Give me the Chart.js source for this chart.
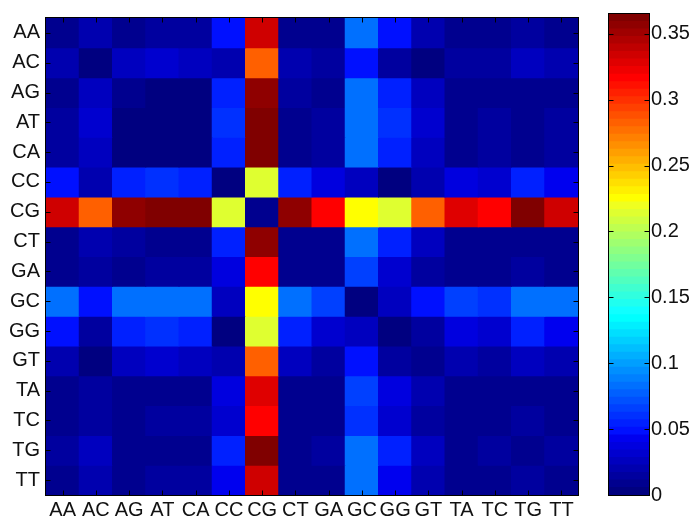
<!DOCTYPE html>
<html>
<head>
<meta charset="utf-8">
<script src="https://cdn.jsdelivr.net/npm/chart.js@4.4.1/dist/chart.umd.min.js"></script>
<style>
  html, body { margin: 0; padding: 0; background: #fff; }
  #wrap { position: relative; width: 689px; height: 524px; overflow: hidden; }
  #heat { position: absolute; left: 0; top: 0; }
  #cbar { position: absolute; left: 590px; top: 0; }
</style>
</head>
<body>
<div id="wrap">
  <canvas id="heat" width="590" height="524"></canvas>
  <canvas id="cbar" width="99" height="524"></canvas>
</div>
<script>
// Dinucleotide labels (columns left to right, rows top to bottom)
const dinucleotides = ['AA','AC','AG','AT','CA','CC','CG','CT','GA','GC','GG','GT','TA','TC','TG','TT'];

// One array per row of the matrix
const rowAA = [0.009,0.020,0.009,0.014,0.014,0.048,0.334,0.009,0.009,0.083,0.048,0.020,0.009,0.009,0.014,0.009];
const rowAC = [0.020,0.003,0.026,0.031,0.026,0.020,0.282,0.020,0.014,0.048,0.014,0.003,0.014,0.014,0.026,0.020];
const rowAG = [0.009,0.026,0.009,0.003,0.003,0.054,0.356,0.014,0.009,0.083,0.054,0.026,0.009,0.009,0.009,0.009];
const rowAT = [0.014,0.031,0.003,0.003,0.003,0.060,0.365,0.009,0.014,0.083,0.060,0.031,0.009,0.014,0.009,0.014];
const rowCA = [0.014,0.026,0.003,0.003,0.003,0.054,0.365,0.009,0.014,0.083,0.054,0.026,0.009,0.014,0.009,0.014];
const rowCC = [0.048,0.020,0.054,0.060,0.054,0.003,0.214,0.054,0.037,0.026,0.003,0.020,0.037,0.031,0.054,0.043];
const rowCG = [0.334,0.282,0.356,0.365,0.365,0.214,0.009,0.356,0.317,0.225,0.214,0.282,0.328,0.317,0.365,0.334];
const rowCT = [0.009,0.020,0.014,0.009,0.009,0.054,0.356,0.009,0.009,0.083,0.054,0.026,0.009,0.009,0.009,0.009];
const rowGA = [0.009,0.014,0.009,0.014,0.014,0.037,0.317,0.009,0.009,0.066,0.031,0.014,0.009,0.009,0.014,0.009];
const rowGC = [0.083,0.048,0.083,0.083,0.083,0.026,0.225,0.083,0.066,0.003,0.026,0.048,0.066,0.060,0.083,0.083];
const rowGG = [0.048,0.014,0.054,0.060,0.054,0.003,0.214,0.054,0.031,0.026,0.003,0.014,0.037,0.031,0.054,0.043];
const rowGT = [0.020,0.003,0.026,0.031,0.026,0.020,0.282,0.026,0.014,0.048,0.014,0.009,0.020,0.014,0.026,0.020];
const rowTA = [0.009,0.014,0.009,0.009,0.009,0.037,0.328,0.009,0.009,0.066,0.037,0.020,0.009,0.009,0.009,0.009];
const rowTC = [0.009,0.014,0.009,0.014,0.014,0.031,0.317,0.009,0.009,0.060,0.031,0.014,0.009,0.009,0.014,0.009];
const rowTG = [0.014,0.026,0.009,0.009,0.009,0.054,0.365,0.009,0.014,0.083,0.054,0.026,0.009,0.014,0.009,0.014];
const rowTT = [0.009,0.020,0.009,0.014,0.014,0.043,0.334,0.009,0.009,0.083,0.043,0.020,0.009,0.009,0.014,0.009];

const matrix = [rowAA,rowAC,rowAG,rowAT,rowCA,rowCC,rowCG,rowCT,rowGA,rowGC,rowGG,rowGT,rowTA,rowTC,rowTG,rowTT];

// Colour bar tick values
const colorbarTicks = [0, 0.05, 0.1, 0.15, 0.2, 0.25, 0.3, 0.35];

// Colour limits: zero to the largest entry
const CMIN = 0;
const CMAX = Math.max(...matrix.flat());
const LEVELS = 64;

// 64-level "jet" colormap
function jet(k) { // k = 1..64
  const u = i => (i <= 16 ? i / 16 : (i <= 31 ? 1 : (48 - i) / 16));
  const r = k >= 25 ? u(k - 24) : 0;
  const g = (k >= 9 && k <= 55) ? u(k - 8) : 0;
  const b = k <= 39 ? u(k + 7) : 0;
  return `rgb(${Math.round(r * 255)},${Math.round(g * 255)},${Math.round(b * 255)})`;
}
function colourFor(v) {
  let k = Math.floor((v - CMIN) / (CMAX - CMIN) * LEVELS) + 1;
  k = Math.max(1, Math.min(LEVELS, k));
  return jet(k);
}

const FONT = { family: '"Liberation Sans", Arial, Helvetica, sans-serif', size: 20 };
const TEXT = '#111';

// Axes box with inward tick marks
const boxPlugin = {
  id: 'boxTicks',
  afterDraw(chart, args, opts) {
    const { ctx, chartArea: a } = chart;
    ctx.save();
    ctx.strokeStyle = '#000';
    ctx.lineWidth = 1;
    const L = Math.round(a.left) - 0.5, R = Math.round(a.right) + 0.5;
    const T = Math.round(a.top) - 0.5, B = Math.round(a.bottom) + 0.5;
    ctx.strokeRect(L, T, R - L, B - T);
    const len = opts.len || 5;
    ctx.beginPath();
    if (opts.xTicks) {
      const xs = chart.scales.x;
      xs.ticks.forEach((t, i) => {
        const x = Math.round(xs.getPixelForTick(i)) + 0.5;
        ctx.moveTo(x, B); ctx.lineTo(x, B - len);
        ctx.moveTo(x, T); ctx.lineTo(x, T + len);
      });
    }
    const ys = chart.scales.y;
    ys.ticks.forEach(t => {
      const y = Math.round(ys.getPixelForValue(t.value)) + 0.5;
      ctx.moveTo(L, y); ctx.lineTo(L + len, y);
      ctx.moveTo(R, y); ctx.lineTo(R - len, y);
    });
    ctx.stroke();
    ctx.restore();
  }
};

// Heat map: each row is a dataset of floating bars spanning [row, row + 1]
const heatDatasets = matrix.map((row, j) => ({
  label: dinucleotides[j],
  data: row.map(() => [j, j + 1]),
  backgroundColor: row.map(colourFor),
  borderWidth: 0,
  barPercentage: 1,
  categoryPercentage: 1,
  grouped: false,
  inflateAmount: 0.5
}));

new Chart(document.getElementById('heat'), {
  type: 'bar',
  data: { labels: dinucleotides, datasets: heatDatasets },
  options: {
    responsive: false,
    animation: false,
    events: [],
    layout: { padding: { top: 5, right: 12, left: 0, bottom: 0 } },
    plugins: { legend: { display: false }, tooltip: { enabled: false }, boxTicks: { xTicks: true, len: 5 } },
    scales: {
      x: {
        type: 'category',
        grid: { display: false, drawTicks: false },
        border: { display: false },
        ticks: { font: FONT, color: TEXT, padding: 3, autoSkip: false, maxRotation: 0, minRotation: 0 },
        afterFit(scale) { scale.height = 29; }
      },
      y: {
        type: 'linear',
        min: 0, max: dinucleotides.length,
        reverse: true,
        grid: { display: false, drawTicks: false },
        border: { display: false },
        afterBuildTicks(scale) { scale.ticks = dinucleotides.map((_, j) => ({ value: j + 0.5 })); },
        ticks: { font: FONT, color: TEXT, padding: 6, autoSkip: false,
                 callback: (v, i) => dinucleotides[i] },
        afterFit(scale) { scale.width = 46; }
      }
    }
  },
  plugins: [boxPlugin]
});

// Colour bar: one floating bar per colormap level
const levelDatasets = [];
for (let k = 1; k <= LEVELS; k++) {
  levelDatasets.push({
    data: [[CMIN + (k - 1) * (CMAX - CMIN) / LEVELS, CMIN + k * (CMAX - CMIN) / LEVELS]],
    backgroundColor: jet(k),
    borderWidth: 0,
    barPercentage: 1,
    categoryPercentage: 1,
    grouped: false,
    inflateAmount: 0.5
  });
}

new Chart(document.getElementById('cbar'), {
  type: 'bar',
  data: { labels: [''], datasets: levelDatasets },
  options: {
    responsive: false,
    animation: false,
    events: [],
    layout: { padding: { top: 5, right: 0, left: 19, bottom: 29 } },
    plugins: { legend: { display: false }, tooltip: { enabled: false }, boxTicks: { xTicks: false, len: 5 } },
    scales: {
      x: { display: false, offset: true },
      y: {
        type: 'linear',
        position: 'right',
        min: CMIN, max: CMAX,
        grid: { display: false, drawTicks: false },
        border: { display: false },
        afterBuildTicks(scale) { scale.ticks = colorbarTicks.map(v => ({ value: v })); },
        ticks: { font: FONT, color: TEXT, padding: 2,
                 callback: v => String(+v.toFixed(2)) },
        afterFit(scale) { scale.width = 40; }
      }
    }
  },
  plugins: [boxPlugin]
});
</script>
</body>
</html>
